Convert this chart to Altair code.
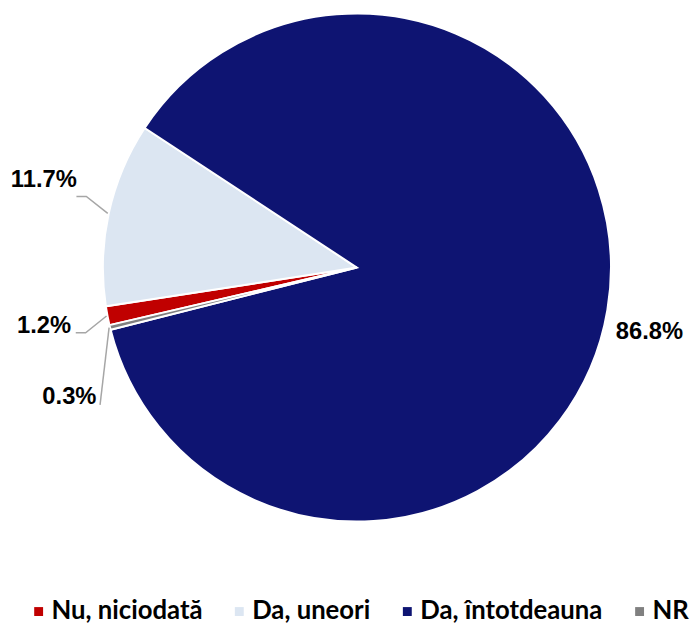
import math
import altair as alt
import pandas as pd

# ---- data ----
categories = ["Nu, niciodată", "Da, uneori", "Da, întotdeauna", "NR"]
values = [1.2, 11.7, 86.8, 0.3]
label_texts = ["1.2%", "11.7%", "86.8%", "0.3%"]

# ---- styles ----
colors = ["#C00000", "#DCE6F2", "#0E1472", "#808080"]
FONT = "Liberation Sans"
LEGEND_FONT = "Lato"

# ---- layout ----
CX, CY, R = 353, 259, 257
START_DEG = 256.9
label_shift_deg = [0.3, 3.4, 2.8, -10.6]
label_radius = [322, 329, 303, 319]
leader_offsets = [[(42, 6.5), (32, 6.5)], [(43, 17), (33, 17)], [], [(31, 8)]]

total = sum(values)
start = math.radians(START_DEG)


def polar(a, r):
    return CX + r * math.sin(a), CY - r * math.cos(a)


mids = []
cum = 0.0
for v in values:
    mids.append(start + 2 * math.pi * (cum + v / 2) / total)
    cum += v

lab_rows = []
lead_rows = []
for i, (cat, txt) in enumerate(zip(categories, label_texts)):
    a = mids[i] + math.radians(label_shift_deg[i])
    lx, ly = polar(a, label_radius[i])
    lab_rows.append({"category": cat, "text": txt, "x": lx, "y": ly})
    if leader_offsets[i]:
        sx, sy = polar(mids[i], R + 1)
        pts = [(sx, sy)] + [(lx + dx, ly + dy) for dx, dy in leader_offsets[i]]
        for k, (px, py) in enumerate(pts):
            lead_rows.append({"category": cat, "k": k, "x": px, "y": py})

pie_df = pd.DataFrame({"category": categories, "value": values, "order": list(range(len(values)))})
lab_df = pd.DataFrame(lab_rows)
lead_df = pd.DataFrame(lead_rows)

arc = alt.Chart(pie_df).mark_arc(outerRadius=R, stroke="white", strokeWidth=2).encode(
    theta=alt.Theta("value:Q", stack=True,
                    scale=alt.Scale(domain=[0, total], range=[start, start + 2 * math.pi])),
    color=alt.Color("category:N",
                    scale=alt.Scale(domain=categories, range=colors),
                    sort=categories,
                    legend=alt.Legend(
                        title=None, orient="none", direction="horizontal",
                        legendX=18, legendY=594,
                        symbolType="square", symbolSize=81, symbolStrokeWidth=0,
                        labelFont=LEGEND_FONT, labelFontWeight="bold", labelFontSize=26,
                        labelColor="#000000", labelOffset=0, columnPadding=24,
                        padding=0, labelLimit=400)),
    order=alt.Order("order:Q"),
    x=alt.value(CX),
    y=alt.value(CY),
)

leaders = alt.Chart(lead_df).mark_line(color="#A6A6A6", strokeWidth=1.5).encode(
    x=alt.X("x:Q", scale=None),
    y=alt.Y("y:Q", scale=None),
    detail="category:N",
    order="k:Q",
)

labels = alt.Chart(lab_df).mark_text(font=FONT, fontWeight="bold", fontSize=24,
                                     color="#000000", align="center", baseline="middle").encode(
    x=alt.X("x:Q", scale=None),
    y=alt.Y("y:Q", scale=None),
    text="text:N",
)

chart = alt.layer(arc, leaders, labels).properties(
    width=690, height=615, padding=0, autosize="none"
).configure_view(stroke=None)

chart.save("out.html", embed_options={"renderer": "svg", "actions": False})
